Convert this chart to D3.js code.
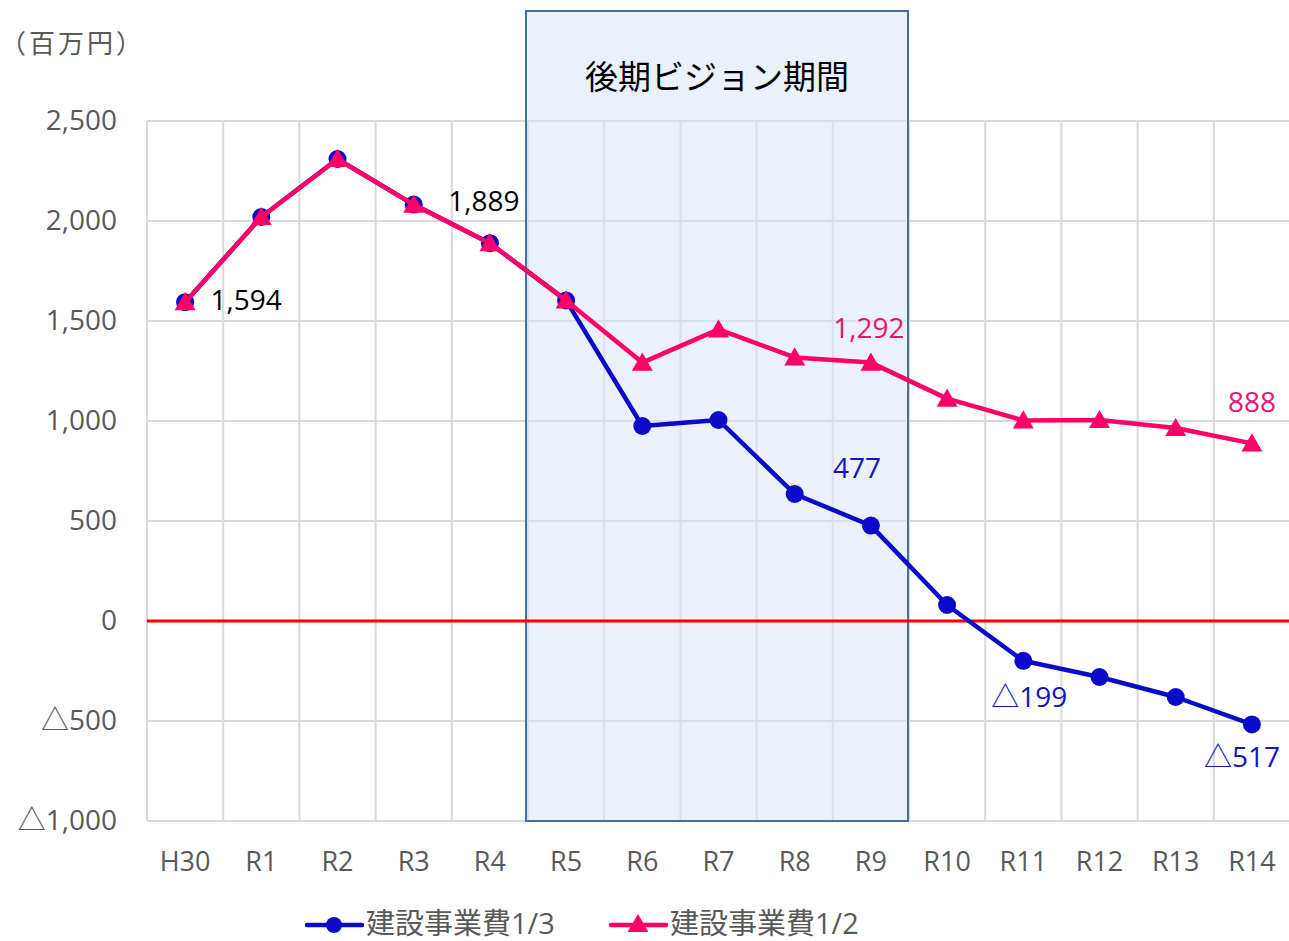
<!DOCTYPE html>
<html>
<head>
<meta charset="utf-8">
<script src="https://cdn.jsdelivr.net/npm/d3@7"></script>
<style>
  body { margin: 0; background: #fff; }
  text { font-family: "Open Sans", "Noto Sans CJK JP", sans-serif; }
</style>
</head>
<body>
<div id="chart"></div>
<script>
var categories = ["H30", "R1", "R2", "R3", "R4", "R5", "R6", "R7", "R8", "R9", "R10", "R11", "R12", "R13", "R14"];
var cost13 = [1594, 2020, 2310, 2082, 1889, 1603, 975, 1005, 635, 477, 80, -199, -280, -380, -517];
var cost12 = [1594, 2020, 2310, 2082, 1889, 1603, 1292, 1458, 1318, 1292, 1112, 1003, 1005, 965, 888];
var seriesNames = ["建設事業費1/3", "建設事業費1/2"];
var yTicks = [-1000, -500, 0, 500, 1000, 1500, 2000, 2500];
var periodRange = ["R5", "R9"];
var periodLabel = "後期ビジョン期間";
var unitLabel = "（百万円）";

var svgWidth = 1289;
var svgHeight = 941;
var margin = { top: 121, right: 0, bottom: 120, left: 147 };

var svg = d3.select("#chart")
  .append("svg")
  .attr("width", svgWidth)
  .attr("height", svgHeight);

var x = d3.scaleBand()
  .domain(categories)
  .range([margin.left, 1290])
  .padding(0);

var y = d3.scaleLinear()
  .domain([-1000, 2500])
  .range([svgHeight - margin.bottom, margin.top]);

var fmt = d3.format(",");
function label(v) {
  return v < 0 ? "△" + fmt(-v) : fmt(v);
}
function cx(d, i) { return x(categories[i]) + x.bandwidth() / 2; }

// gridlines
svg.append("g")
  .selectAll("line")
  .data(yTicks)
  .enter()
  .append("line")
  .attr("x1", margin.left)
  .attr("x2", 1290)
  .attr("y1", d => y(d))
  .attr("y2", d => y(d))
  .attr("stroke", "#d9d9d9")
  .attr("stroke-width", 2);

svg.append("g")
  .selectAll("line")
  .data(categories)
  .enter()
  .append("line")
  .attr("x1", d => x(d))
  .attr("x2", d => x(d))
  .attr("y1", y(2500))
  .attr("y2", y(-1000))
  .attr("stroke", "#d9d9d9")
  .attr("stroke-width", 2);

// period box
var boxLeft = x(periodRange[0]) - 2;
var boxRight = x(periodRange[1]) + x.bandwidth() - 1;
svg.append("rect")
  .attr("x", boxLeft)
  .attr("y", 11)
  .attr("width", boxRight - boxLeft)
  .attr("height", y(-1000) - 11)
  .attr("fill", "#dae6f5")
  .attr("fill-opacity", 0.55)
  .attr("stroke", "#41719c")
  .attr("stroke-width", 2);

svg.append("text")
  .attr("x", (boxLeft + boxRight) / 2)
  .attr("y", 80)
  .attr("text-anchor", "middle")
  .attr("dominant-baseline", "middle")
  .attr("font-size", 33)
  .attr("fill", "#000")
  .text(periodLabel);

// zero line
svg.append("line")
  .attr("x1", margin.left)
  .attr("x2", 1289)
  .attr("y1", y(0))
  .attr("y2", y(0))
  .attr("stroke", "#ff0000")
  .attr("stroke-width", 3);

// axis labels
var yAxis = d3.axisLeft(y).tickValues(yTicks).tickFormat(label).tickSize(0).tickPadding(30);
var yg = svg.append("g")
  .attr("transform", `translate(${margin.left}, 0)`)
  .call(yAxis);
yg.select(".domain").remove();
yg.selectAll("text")
  .attr("font-size", 28)
  .attr("fill", "#595959")
  .style("font-family", "'Open Sans', 'Noto Sans CJK JP', sans-serif");

var xAxis = d3.axisBottom(x).tickSize(0).tickPadding(31);
var xg = svg.append("g")
  .attr("transform", `translate(0, ${y(-1000)})`)
  .call(xAxis);
xg.select(".domain").remove();
xg.selectAll("text")
  .attr("font-size", 27)
  .attr("fill", "#595959")
  .style("font-family", "'Open Sans', 'Noto Sans CJK JP', sans-serif");

svg.append("text")
  .attr("x", 0)
  .attr("y", 46)
  .attr("dominant-baseline", "middle")
  .attr("font-size", 26)
  .attr("letter-spacing", 3)
  .attr("fill", "#595959")
  .style("font-family", "'Noto Sans CJK JP', sans-serif")
  .text(unitLabel);

// series
var blue = "#0a0ac8";
var pink = "#ff0066";
var line = d3.line().x((d, i) => cx(d, i)).y(d => y(d));
var tri = d3.symbol().type(d3.symbolTriangle).size(190);

svg.append("path")
  .datum(cost13)
  .attr("d", line)
  .attr("fill", "none")
  .attr("stroke", blue)
  .attr("stroke-width", 4.5)
  .attr("stroke-linejoin", "round");

svg.append("g")
  .selectAll("circle")
  .data(cost13)
  .enter()
  .append("circle")
  .attr("cx", (d, i) => cx(d, i))
  .attr("cy", d => y(d))
  .attr("r", 9)
  .attr("fill", blue);

svg.append("path")
  .datum(cost12)
  .attr("d", line)
  .attr("fill", "none")
  .attr("stroke", pink)
  .attr("stroke-width", 4.5)
  .attr("stroke-linejoin", "round");

svg.append("g")
  .selectAll("path")
  .data(cost12)
  .enter()
  .append("path")
  .attr("d", tri)
  .attr("transform", (d, i) => `translate(${cx(d, i)}, ${y(d) + 2})`)
  .attr("fill", pink);

// data labels: [series, index, dx, dy, color]
var labelSpecs = [
  [cost13, 0, 61, 0, "#000"],
  [cost13, 4, -6, -40, "#000"],
  [cost12, 9, -2, -32, "#ee1170"],
  [cost12, 14, 0, -39, "#ee1170"],
  [cost13, 9, -14, -55, "#1515c0"],
  [cost13, 11, 6, 39, "#1515c0"],
  [cost13, 14, -10, 35, "#1515c0"]
];
svg.append("g")
  .selectAll("text")
  .data(labelSpecs)
  .enter()
  .append("text")
  .attr("x", d => x(categories[d[1]]) + x.bandwidth() / 2 + d[2])
  .attr("y", d => y(d[0][d[1]]) + d[3])
  .attr("text-anchor", "middle")
  .attr("dominant-baseline", "middle")
  .attr("font-size", 28)
  .attr("fill", d => d[4])
  .text(d => label(d[0][d[1]]));

// legend
var legend = svg.append("g").attr("transform", "translate(0, 925)");
var legendX = [307, 611];
var legendColors = [blue, pink];
seriesNames.forEach(function(name, i) {
  var g = legend.append("g").attr("transform", `translate(${legendX[i]}, 0)`);
  g.append("line")
    .attr("x1", 0).attr("x2", 55)
    .attr("stroke", legendColors[i])
    .attr("stroke-width", 4.5)
    .attr("stroke-linecap", "round");
  if (i === 0) {
    g.append("circle").attr("cx", 27).attr("r", 8).attr("fill", blue);
  } else {
    g.append("path").attr("d", tri).attr("transform", "translate(27, 1)").attr("fill", pink);
  }
  g.append("text")
    .attr("x", 59)
    .attr("y", 1)
    .attr("dominant-baseline", "middle")
    .attr("font-size", 29)
    .attr("fill", "#595959")
    .text(name);
});
</script>
</body>
</html>
